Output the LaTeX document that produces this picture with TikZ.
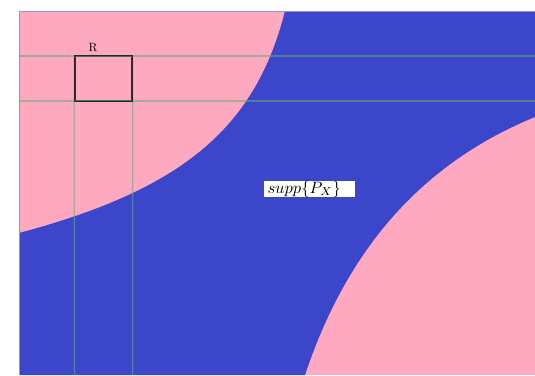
\documentclass[tikz,border=0pt]{standalone}
\usetikzlibrary{positioning}
\definecolor{suppblue}{RGB}{60,70,202}
\definecolor{regpink}{RGB}{255,169,193}
\definecolor{framecol}{RGB}{150,140,235}
\definecolor{gridcol}{RGB}{95,175,120}
\tikzset{
	gridline/.style={gridcol,opacity=0.55,line width=1.5pt},
	boxR/.style={draw=black!85,line width=1.2pt,minimum width=57pt,minimum height=45pt,inner sep=0pt},
	supplabel/.style={fill=white,inner sep=0pt,minimum width=91pt,minimum height=16pt,text width=84pt,align=left}
}
\begin{document}
\begin{tikzpicture}[x=1pt,y=-1pt]
		\useasboundingbox (0,0) rectangle (535,375);
		% background: the part outside supp
		\fill[regpink] (19,11) rectangle (535,375);
		% supp{P_X}
		\fill[suppblue] (285,11) -- (535,11) -- (535,117)
		.. controls (430,160) and (350,240) .. (305,375)
		-- (19,375) -- (19,233)
		.. controls (180,190) and (255,130) .. (285,11)
		-- cycle;
		\draw[framecol,line width=1pt] (19,375) -- (19,11) -- (535,11);
		\node[boxR] (rbox) at (103.5,78.5) {};
		\node[inner sep=0pt,anchor=base] (rlabel) at (93,51) {\scalebox{1.2}{R}};
		\coordinate (hl) at (19,56);
		\coordinate (hr) at (535,56);
		\coordinate (ll) at (19,101);
		\coordinate (lr) at (535,101);
		\coordinate (vb1) at (74.5,375);
		\coordinate (vb2) at (132.5,375);
		\draw[gridline] (hl) -- (hr);
		\draw[gridline] (ll) -- (lr);
		\draw[gridline] (rbox.north west) -- (vb1);
		\draw[gridline] (rbox.north east) -- (vb2);
		\draw[black!85,line width=1.2pt] (rbox.north west) rectangle (rbox.south east);
		\node[supplabel] (supp) at (309.5,189) {\scalebox{1.65}{$supp\{P_X\}$}};
	\end{tikzpicture}
\end{document}
